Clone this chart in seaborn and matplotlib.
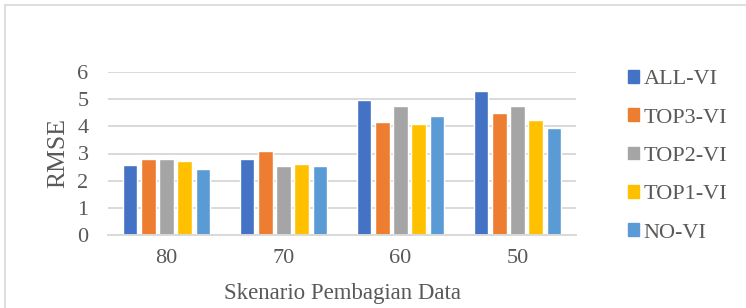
import matplotlib
matplotlib.use('Agg')
import matplotlib.pyplot as plt
import matplotlib.lines as mlines
import matplotlib.patches as mpatches
import seaborn as sns
import pandas as pd

### Data
############################################################################

skenario = ['80', '70', '60', '50']
models   = ['ALL-VI', 'TOP3-VI', 'TOP2-VI', 'TOP1-VI', 'NO-VI']
all_vi   = [2.57, 2.80, 4.97, 5.29]
top3_vi  = [2.78, 3.10, 4.15, 4.49]
top2_vi  = [2.81, 2.55, 4.76, 4.76]
top1_vi  = [2.73, 2.60, 4.07, 4.25]
no_vi    = [2.42, 2.55, 4.38, 3.94]
colors   = ['#4472C4', '#ED7D31', '#A5A5A5', '#FFC000', '#5B9BD5']

rows = []
for name, vals in zip(models, [all_vi, top3_vi, top2_vi, top1_vi, no_vi]):
	for s, v in zip(skenario, vals):
		rows.append({'Skenario': s, 'Model': name, 'RMSE': v})
df = pd.DataFrame(rows)

### Plot
############################################################################

sns.set_style('white')
plt.rcParams['font.family'] = ['Liberation Serif', 'DejaVu Serif']
txt = '#595959'
grid = '#D9D9D9'

fig = plt.figure(figsize=(7.46, 3.08), dpi=100)
ax = fig.add_axes([108/746, 1 - 235/308, 468/746, (235 - 72)/308])

sns.barplot(data=df, x='Skenario', y='RMSE', hue='Model', order=skenario,
	hue_order=models, palette=colors, width=0.78, gap=0.2, ax=ax,
	legend=False, saturation=1)

ax.set_ylim(0, 6)
ax.set_xlim(-0.5, 3.5)
ax.set_yticks(range(0, 7))
ax.yaxis.grid(True, color=grid, linewidth=1.4)
ax.set_axisbelow(True)
for side in ['top', 'right', 'left']:
	ax.spines[side].set_visible(False)
ax.spines['bottom'].set_color(grid)
ax.spines['bottom'].set_linewidth(1.4)
ax.tick_params(length=0, labelsize=16, colors=txt, pad=14)
ax.tick_params(axis='x', pad=10)
ax.set_xlabel('Skenario Pembagian Data', fontsize=16.5, color=txt, labelpad=11)
ax.set_ylabel('RMSE', fontsize=18.5, color=txt, labelpad=6)

# Legend
handles = [mpatches.Patch(color=c, label=m) for c, m in zip(colors, models)]
fig.legend(handles=handles, loc='upper left', bbox_to_anchor=(628/746, 1 - 70/308),
	frameon=False, fontsize=16, labelcolor=txt, handlelength=0.5,
	handleheight=0.5, handletextpad=0.2, labelspacing=0.86,
	borderpad=0, borderaxespad=0)

# Outer chart border (left and top visible)
fig.add_artist(mlines.Line2D([5/746, 5/746], [0, 1 - 5/308], color=grid, linewidth=1.2))
fig.add_artist(mlines.Line2D([5/746, 1], [1 - 5/308, 1 - 5/308], color=grid, linewidth=1.2))

fig.savefig('out.png', dpi=100)
